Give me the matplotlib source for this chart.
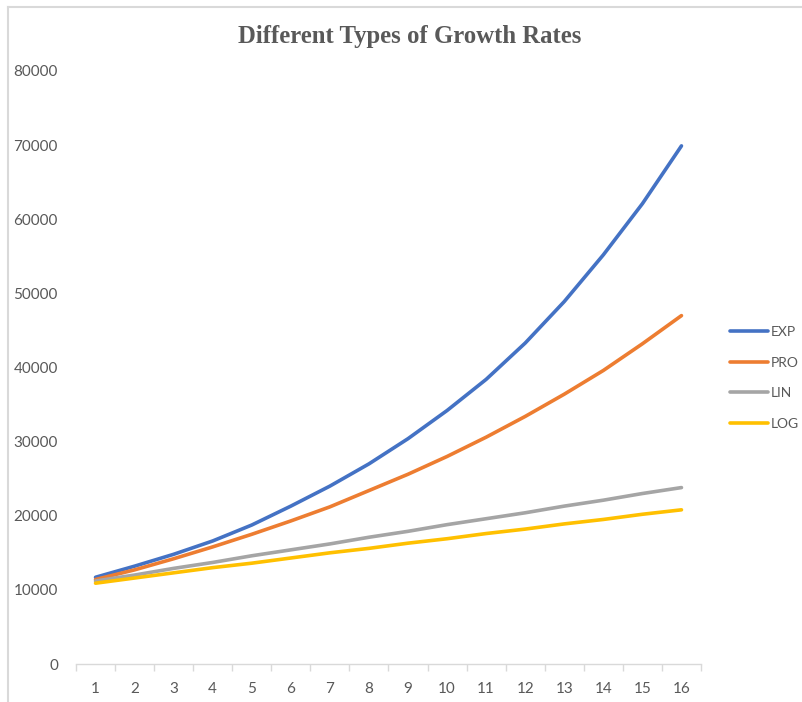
import matplotlib
matplotlib.use("Agg")
import matplotlib.pyplot as plt
from matplotlib.lines import Line2D

periods = list(range(1, 17))
exp_vals = [11700, 13200, 14800, 16600, 18750, 21300, 24000, 27000,
            30400, 34200, 38400, 43300, 48900, 55200, 62100, 69900]
pro_vals = [11400, 12700, 14200, 15800, 17500, 19300, 21200, 23400,
            25600, 28000, 30600, 33400, 36400, 39600, 43200, 47000]
lin_vals = [11200, 12000, 12900, 13700, 14600, 15400, 16200, 17100,
            17900, 18800, 19600, 20400, 21300, 22100, 23000, 23800]
log_vals = [10900, 11600, 12300, 13000, 13600, 14300, 15000, 15600,
            16300, 16900, 17600, 18200, 18900, 19500, 20200, 20800]
series_names = ["EXP", "PRO", "LIN", "LOG"]
colors = ["#4472C4", "#ED7D31", "#A5A5A5", "#FFC000"]
y_ticks = [0, 10000, 20000, 30000, 40000, 50000, 60000, 70000, 80000]

W, H = 803, 702
fig = plt.figure(figsize=(W / 100, H / 100), dpi=100)
fig.patch.set_facecolor("white")

# outer chart frame (light gray, partially visible)
fig.add_artist(Line2D([8 / W, 8 / W], [0, 1 - 7 / H], color="#D9D9D9", lw=1.5,
                      transform=fig.transFigure))
fig.add_artist(Line2D([8 / W, 1], [1 - 7 / H, 1 - 7 / H], color="#D9D9D9", lw=1.5,
                      transform=fig.transFigure))

left, right = 76 / W, 701 / W
bottom, top = (H - 664) / H, (H - 71) / H
ax = fig.add_axes([left, bottom, right - left, top - bottom])

txt_color = "#595959"
font = "Lato"
for vals, name, c in zip([exp_vals, pro_vals, lin_vals, log_vals], series_names, colors):
    ax.plot(periods, vals, color=c, lw=2.6, label=name,
            solid_capstyle="round", solid_joinstyle="round")

ax.set_xlim(0.5, 16.5)
ax.set_ylim(0, 80000)
ax.set_yticks(y_ticks)
ax.set_yticklabels([str(v) for v in y_ticks], fontsize=11, color=txt_color, family=font)
ax.set_xticks(periods)
ax.set_xticklabels([str(p) for p in periods], fontsize=11, color=txt_color, family=font)
ax.set_xticks([p + 0.5 for p in range(0, 17)], minor=True)
ax.tick_params(axis="x", which="major", length=0, pad=13)
ax.tick_params(axis="x", which="minor", length=5, color="#D9D9D9", width=1)
ax.tick_params(axis="y", length=0, pad=13)
for s in ["left", "right", "top"]:
    ax.spines[s].set_visible(False)
ax.spines["bottom"].set_color("#D9D9D9")
ax.spines["bottom"].set_linewidth(1)

fig.text(410 / W, 1 - 36 / H, "Different Types of Growth Rates", ha="center", va="center",
         fontsize=17.8, fontweight="bold", color=txt_color, family="Liberation Serif")

leg = fig.legend(loc="center left", bbox_to_anchor=(718 / W, 1 - 378 / H), frameon=False,
                 handlelength=2.7, handletextpad=0.2, labelspacing=1.33,
                 prop={"family": font, "size": 10})
for t in leg.get_texts():
    t.set_color(txt_color)

fig.savefig("out.png", dpi=100, facecolor="white")
